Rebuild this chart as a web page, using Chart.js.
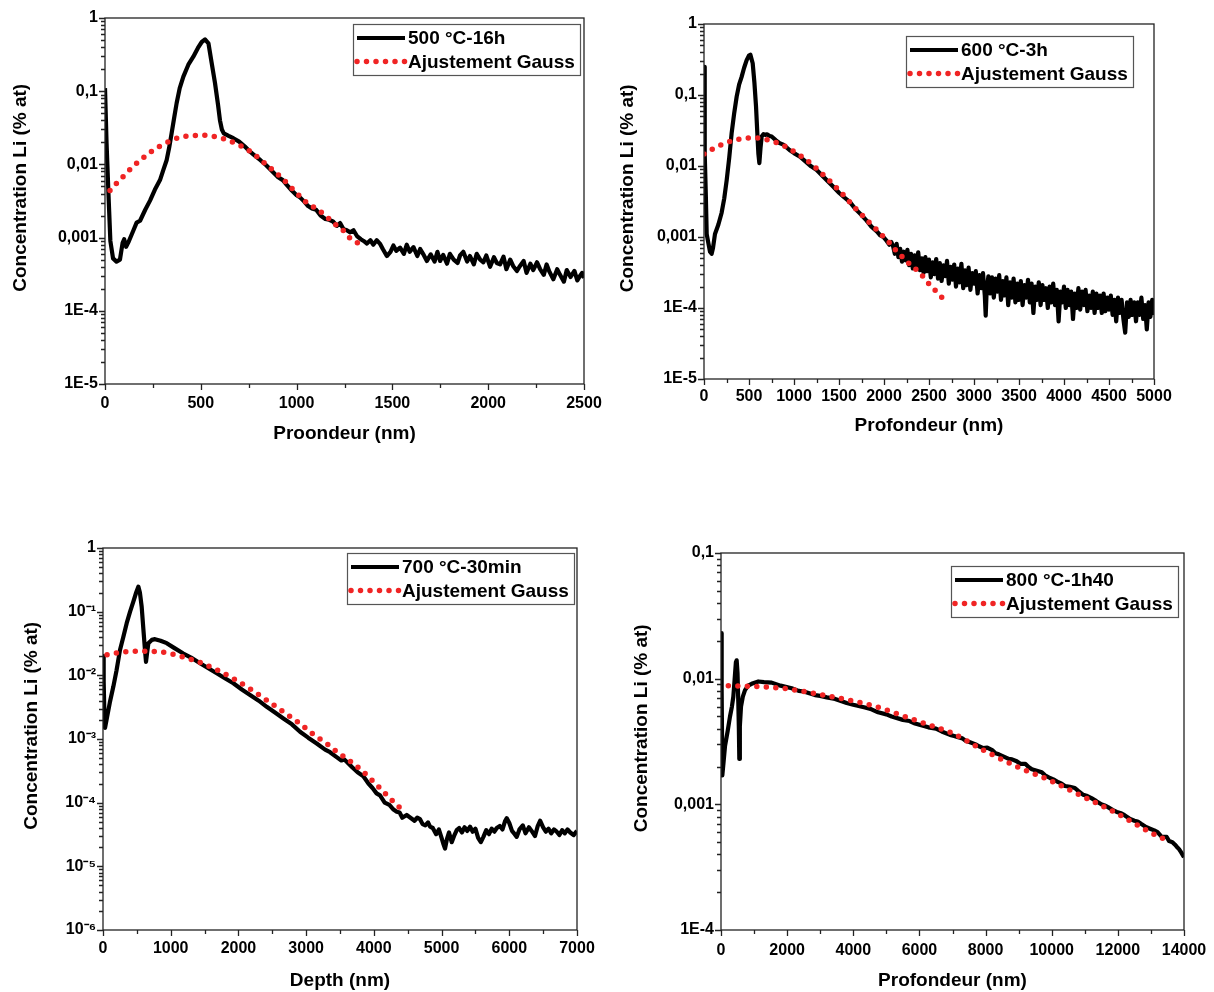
<!DOCTYPE html>
<html>
<head>
<meta charset="utf-8">
<script src="https://cdn.jsdelivr.net/npm/chart.js@4.4.1/dist/chart.umd.min.js"></script>
<style>
  body { margin: 0; background: #fff; }
  canvas { position: absolute; }
</style>
</head>
<body>
<canvas id="c500" width="607" height="460" style="left:0;top:0"></canvas>
<canvas id="c600" width="607" height="460" style="left:607px;top:0"></canvas>
<canvas id="c700" width="607" height="496" style="left:0;top:496px"></canvas>
<canvas id="c800" width="607" height="496" style="left:607px;top:496px"></canvas>
<script>
// ---- data: [depth nm, Li concentration % at] ----
const profile500 = [[0,0.11],[8,0.02],[18,0.004],[28,0.0009],[42,0.00052],[60,0.00047],[78,0.0005],[92,0.00085],[100,0.00095],[110,0.00075],[125,0.0009],[148,0.00125],[165,0.0016],[183,0.0017],[210,0.0024],[235,0.0032],[260,0.0045],[287,0.0061],[305,0.0085],[322,0.0115],[335,0.017],[348,0.027],[362,0.045],[374,0.069],[390,0.11],[409,0.158],[435,0.23],[461,0.296],[485,0.39],[505,0.47],[522,0.51],[540,0.45],[556,0.25],[574,0.13],[590,0.065],[600,0.04],[610,0.03],[620,0.0265],[645,0.0245],[670,0.0228],[700,0.0205],[730,0.0175],[757,0.0149],[785,0.013],[810,0.0115],[840,0.0098],[870,0.0082],[900,0.0068],[928,0.0061],[950,0.0052],[975,0.0044],[1000,0.0038],[1015,0.0036],[1040,0.0031],[1060,0.0027],[1080,0.0025],[1102,0.0024],[1125,0.002],[1150,0.0018],[1170,0.00175],[1190,0.00166],[1210,0.00145],[1227,0.00158],[1245,0.0013],[1260,0.00127],[1280,0.00118],[1297,0.00126],[1315,0.00105],[1335,0.00095],[1350,0.0009],[1367,0.00083],[1385,0.00092],[1400,0.0008],[1418,0.00092],[1436,0.00082],[1450,0.0007],[1471,0.00056],[1490,0.00064],[1505,0.00078],[1520,0.00066],[1540,0.00073],[1560,0.0006],[1575,0.0008],[1590,0.00064],[1610,0.00074],[1630,0.00056],[1645,0.0007],[1660,0.0006],[1680,0.00048],[1700,0.00059],[1720,0.00047],[1735,0.00064],[1749,0.00048],[1765,0.00058],[1785,0.00044],[1800,0.0006],[1820,0.0005],[1840,0.00045],[1853,0.00057],[1870,0.00064],[1890,0.00047],[1905,0.00056],[1925,0.00043],[1940,0.0006],[1958,0.0005],[1975,0.00046],[1990,0.00057],[2010,0.0004],[2030,0.00054],[2045,0.00045],[2062,0.00043],[2080,0.00055],[2095,0.00037],[2115,0.0005],[2130,0.00041],[2150,0.00035],[2166,0.00041],[2185,0.00048],[2200,0.00033],[2220,0.00044],[2235,0.00036],[2255,0.00046],[2271,0.00037],[2290,0.00031],[2305,0.00043],[2320,0.00034],[2340,0.00027],[2360,0.00037],[2375,0.00031],[2395,0.00025],[2410,0.00036],[2430,0.00029],[2450,0.00035],[2465,0.00026],[2479,0.0003],[2490,0.00033],[2500,0.00028]];
const gauss500 = [[26,0.0044],[65,0.0057],[104,0.0072],[145,0.0093],[186,0.0115],[234,0.0145],[282,0.0175],[334,0.0205],[386,0.0232],[445,0.0245],[505,0.025],[560,0.0243],[618,0.0224],[672,0.0198],[725,0.017],[770,0.0143],[818,0.0112],[857,0.0092],[896,0.0075],[931,0.0062],[966,0.005],[1003,0.004],[1039,0.0032],[1080,0.0027],[1122,0.0023],[1170,0.0018],[1218,0.0014],[1244,0.00125],[1270,0.00103],[1310,0.00088],[1340,0.00075]];

const profile600 = [[0,0.25],[5,0.05],[11,0.015],[20,0.004],[30,0.0011],[50,0.0008],[67,0.00062],[85,0.00058],[100,0.0007],[122,0.0011],[160,0.0015],[196,0.0022],[225,0.0035],[252,0.0063],[280,0.013],[307,0.029],[335,0.055],[363,0.095],[390,0.14],[418,0.18],[445,0.24],[474,0.31],[500,0.36],[515,0.37],[541,0.28],[560,0.15],[578,0.069],[595,0.025],[604,0.015],[615,0.011],[628,0.018],[641,0.026],[660,0.028],[678,0.0274],[700,0.028],[730,0.0265],[752,0.026],[800,0.023],[840,0.021],[881,0.02],[950,0.0168],[1000,0.0152],[1067,0.0135],[1130,0.0115],[1190,0.0099],[1252,0.0088],[1310,0.0074],[1370,0.0062],[1437,0.0051],[1500,0.0042],[1560,0.0036],[1622,0.0031],[1680,0.0025],[1740,0.0021],[1807,0.0017],[1860,0.0014],[1920,0.0012],[1960,0.00105],[1993,0.001],[2030,0.00088],[2060,0.00078],[2080,0.00085],[2100,0.00075],[2120,0.00058],[2140,0.0008],[2160,0.00052],[2180,0.00068],[2200,0.00045],[2220,0.00062],[2240,0.00047],[2260,0.00066],[2280,0.0004],[2300,0.00058],[2320,0.00036],[2340,0.00055],[2360,0.00039],[2380,0.00061],[2400,0.00034],[2420,0.0005],[2440,0.00031],[2460,0.00052],[2480,0.00033],[2500,0.00048],[2520,0.00027],[2540,0.00044],[2560,0.0003],[2580,0.00049],[2600,0.00026],[2620,0.00043],[2640,0.00024],[2660,0.0004],[2680,0.00028],[2700,0.00046],[2720,0.00022],[2740,0.00038],[2760,0.00025],[2780,0.00041],[2800,0.0002],[2820,0.00036],[2840,0.00023],[2860,0.00042],[2880,0.00019],[2900,0.00034],[2920,0.00021],[2940,0.00037],[2960,0.00018],[2980,0.00031],[3000,0.00022],[3020,0.00033],[3040,0.00016],[3060,0.00029],[3080,0.00019],[3100,0.00031],[3120,0.00015],[3130,0.000078],[3140,0.00017],[3160,0.00028],[3180,0.00016],[3200,0.00027],[3220,0.00014],[3240,0.00026],[3260,0.00017],[3280,0.00029],[3300,0.00013],[3320,0.00024],[3340,0.00015],[3360,0.00027],[3380,0.00011],[3400,0.00023],[3420,0.00014],[3440,0.00026],[3460,0.00012],[3480,0.00022],[3500,0.00013],[3520,0.00024],[3540,0.00011],[3560,0.00021],[3580,0.00014],[3600,0.00025],[3620,0.00012],[3640,0.00022],[3660,0.000085],[3680,0.0002],[3700,0.00013],[3720,0.00023],[3740,0.00011],[3760,0.00021],[3780,0.00013],[3800,0.00019],[3820,0.0001],[3840,0.0002],[3860,0.00012],[3880,0.00022],[3900,0.00011],[3920,0.00018],[3940,0.000065],[3960,0.00017],[3980,0.00012],[4000,0.0002],[4020,0.0001],[4040,0.00018],[4060,0.00011],[4080,0.00017],[4100,0.00007],[4120,0.00016],[4140,0.0001],[4160,0.00019],[4180,0.000095],[4200,0.00017],[4220,0.00011],[4240,0.00018],[4260,0.00009],[4280,0.00015],[4300,0.0001],[4320,0.00017],[4340,0.000085],[4360,0.00016],[4380,0.0001],[4400,0.00015],[4420,0.000085],[4440,0.00016],[4460,0.00009],[4480,0.00014],[4500,0.000095],[4520,0.00015],[4540,0.00008],[4560,0.00013],[4580,0.000065],[4600,0.00014],[4620,0.000085],[4640,0.00013],[4660,0.00007],[4680,0.000045],[4700,0.00012],[4720,0.000075],[4740,0.00013],[4760,0.00008],[4780,0.00012],[4800,0.000065],[4820,0.00012],[4840,0.00008],[4860,0.00014],[4880,0.00007],[4900,0.00011],[4920,0.00005],[4940,0.00012],[4960,0.000075],[4980,0.00013],[5000,0.00008]];
const gauss600 = [[0,0.0148],[100,0.0175],[204,0.0202],[320,0.0228],[430,0.0243],[548,0.025],[670,0.024],[775,0.022],[881,0.0195],[980,0.0165],[1078,0.0138],[1165,0.0114],[1252,0.0092],[1335,0.0073],[1419,0.0058],[1500,0.0045],[1585,0.0035],[1650,0.0028],[1715,0.0023],[1780,0.0019],[1844,0.00156],[1910,0.0013],[1974,0.00107],[2050,0.00086],[2122,0.00067],[2200,0.00053],[2289,0.00041],[2400,0.00031],[2504,0.000215],[2563,0.00018],[2622,0.00015],[2681,0.000126]];

const profile700 = [[0,0.02],[10,0.008],[20,0.0025],[30,0.0015],[60,0.0022],[100,0.0037],[152,0.0066],[200,0.012],[251,0.025],[300,0.04],[350,0.066],[400,0.1],[448,0.144],[490,0.2],[522,0.247],[545,0.2],[571,0.12],[595,0.055],[620,0.025],[635,0.0163],[650,0.022],[670,0.032],[720,0.036],[768,0.037],[850,0.035],[941,0.032],[1050,0.027],[1186,0.022],[1300,0.019],[1433,0.0155],[1550,0.013],[1679,0.0108],[1800,0.009],[1925,0.0075],[2050,0.006],[2172,0.0049],[2300,0.004],[2418,0.0032],[2540,0.0026],[2664,0.0021],[2790,0.0017],[2910,0.0013],[3030,0.00105],[3156,0.00085],[3280,0.00068],[3353,0.00062],[3450,0.00052],[3520,0.00046],[3560,0.00048],[3599,0.00044],[3680,0.00036],[3760,0.0003],[3845,0.00026],[3920,0.0002],[3980,0.00017],[4040,0.00014],[4091,0.00013],[4160,0.0001],[4230,0.000092],[4290,0.000078],[4338,0.000072],[4380,0.00007],[4420,0.000058],[4485,0.000064],[4540,0.000058],[4600,0.000052],[4640,0.000058],[4682,0.000055],[4720,0.000046],[4760,0.000044],[4800,0.000049],[4830,0.000042],[4870,0.00004],[4920,0.000032],[4960,0.000038],[5000,0.000028],[5030,0.000022],[5051,0.000019],[5080,0.000027],[5110,0.000034],[5150,0.000024],[5190,0.000031],[5224,0.000037],[5260,0.00004],[5300,0.000034],[5340,0.000041],[5380,0.000036],[5421,0.000042],[5460,0.000035],[5500,0.000039],[5540,0.000028],[5580,0.000024],[5618,0.000029],[5660,0.000037],[5700,0.000032],[5740,0.000039],[5780,0.000035],[5815,0.00004],[5860,0.000043],[5900,0.000038],[5940,0.000052],[5963,0.000057],[6000,0.000048],[6040,0.000036],[6080,0.000032],[6110,0.000029],[6150,0.000038],[6200,0.000044],[6240,0.000033],[6290,0.000041],[6330,0.000036],[6380,0.00003],[6420,0.000043],[6455,0.000052],[6500,0.000041],[6540,0.000035],[6580,0.000039],[6620,0.000033],[6660,0.000038],[6701,0.000035],[6740,0.000031],[6780,0.000037],[6820,0.000033],[6860,0.000038],[6900,0.000034],[6950,0.000031],[7000,0.000036]];
const gauss700 = [[60,0.021],[200,0.0225],[483,0.024],[803,0.0236],[1098,0.0206],[1384,0.0166],[1654,0.0126],[1916,0.009],[2196,0.0059],[2442,0.0039],[2679,0.0026],[2900,0.00177],[3107,0.00118],[3328,0.00081],[3452,0.00063],[3600,0.00049],[3821,0.00032],[4043,0.00019],[4264,0.00011],[4412,0.000078]];

const profile800 = [[0,0.023],[20,0.008],[40,0.0017],[80,0.0022],[121,0.0029],[200,0.0038],[272,0.005],[330,0.006],[373,0.0072],[420,0.0105],[450,0.0135],[474,0.014],[500,0.011],[524,0.0064],[540,0.004],[554,0.0023],[570,0.0042],[605,0.006],[660,0.0072],[726,0.0081],[820,0.0088],[927,0.0091],[1129,0.0095],[1300,0.0094],[1532,0.0093],[1800,0.0088],[2137,0.0084],[2350,0.008],[2500,0.0079],[2842,0.0074],[3000,0.0073],[3200,0.0071],[3450,0.0069],[3649,0.0066],[3800,0.0064],[4000,0.0062],[4354,0.0059],[4550,0.0057],[4750,0.0054],[5000,0.0052],[5161,0.005],[5500,0.0047],[5700,0.0046],[5866,0.0044],[6270,0.0041],[6500,0.004],[6673,0.0038],[6925,0.00357],[7050,0.0035],[7200,0.0034],[7300,0.00335],[7400,0.0032],[7550,0.0031],[7700,0.003],[7800,0.0029],[7932,0.0028],[8050,0.00283],[8200,0.0027],[8300,0.00255],[8400,0.0025],[8550,0.0024],[8700,0.0023],[8800,0.00228],[8941,0.0022],[9050,0.0021],[9200,0.0021],[9300,0.00198],[9400,0.0019],[9550,0.00185],[9700,0.0018],[9800,0.0017],[9948,0.00162],[10050,0.00158],[10200,0.0015],[10300,0.00146],[10400,0.0014],[10550,0.00138],[10700,0.00135],[10800,0.00128],[10955,0.00119],[11050,0.00117],[11200,0.00112],[11350,0.00106],[11500,0.001],[11600,0.00098],[11700,0.00095],[11850,0.0009],[11965,0.00087],[12100,0.00085],[12200,0.00082],[12350,0.00077],[12500,0.00074],[12600,0.00073],[12700,0.0007],[12850,0.00066],[12973,0.00064],[13100,0.00062],[13200,0.0006],[13300,0.00056],[13350,0.00055],[13477,0.00055],[13550,0.00051],[13650,0.0005],[13720,0.00048],[13780,0.00046],[13850,0.00044],[13900,0.00042],[13950,0.0004],[14000,0.00038]];
const gauss800 = [[222,0.0088],[827,0.0087],[1835,0.0084],[2742,0.0077],[3700,0.0069],[4587,0.0061],[5463,0.0051],[6270,0.0043],[6975,0.0037],[7932,0.0027],[8941,0.002],[9948,0.00155],[10955,0.00115],[11965,0.00085],[12973,0.0006],[13400,0.00053]];

// ---- axes and labels ----
const seriesNames = ['500 °C-16h', '600 °C-3h', '700 °C-30min', '800 °C-1h40'];
const fitName = 'Ajustement Gauss';
const yTitle = 'Concentration Li (% at)';
const xTitles = ['Proondeur (nm)', 'Profondeur (nm)', 'Depth (nm)', 'Profondeur (nm)'];

const xTicks500 = [0, 500, 1000, 1500, 2000, 2500];
const xTicks600 = [0, 500, 1000, 1500, 2000, 2500, 3000, 3500, 4000, 4500, 5000];
const xTicks700 = [0, 1000, 2000, 3000, 4000, 5000, 6000, 7000];
const xTicks800 = [0, 2000, 4000, 6000, 8000, 10000, 12000, 14000];

const yTicks5 = [1, 0.1, 0.01, 0.001, 1e-4, 1e-5];
const yLabels5 = ['1', '0,1', '0,01', '0,001', '1E-4', '1E-5'];
const yTicks700 = [1, 0.1, 0.01, 0.001, 1e-4, 1e-5, 1e-6];
const yLabels700 = ['1', '10⁻¹', '10⁻²', '10⁻³', '10⁻⁴', '10⁻⁵', '10⁻⁶'];
const yTicks800 = [0.1, 0.01, 0.001, 1e-4];
const yLabels800 = ['0,1', '0,01', '0,001', '1E-4'];

const FONT = '"Liberation Sans", Arial, sans-serif';

// frame round the plot with outward major/minor ticks
const frameTicks = {
  id: 'frameTicks',
  afterDraw(chart, args, opts) {
    const { ctx, chartArea: a, scales: { x, y } } = chart;
    ctx.save();
    ctx.strokeStyle = '#222';
    ctx.lineWidth = 1.3;
    ctx.strokeRect(a.left, a.top, a.right - a.left, a.bottom - a.top);
    ctx.beginPath();
    for (let v = x.min; v <= x.max + 1e-6; v += opts.xMinor) {
      const px = Math.round(x.getPixelForValue(v)) + 0.5;
      const major = Math.abs(v / opts.xMajor - Math.round(v / opts.xMajor)) < 1e-6;
      ctx.moveTo(px, a.bottom);
      ctx.lineTo(px, a.bottom + (major ? 6 : 4));
    }
    const e0 = Math.round(Math.log10(y.min)), e1 = Math.round(Math.log10(y.max));
    for (let e = e0; e <= e1; e++) {
      for (let k = 1; k <= 9; k++) {
        const v = k * Math.pow(10, e);
        if (v > y.max * 1.0001) break;
        const py = Math.round(y.getPixelForValue(v)) + 0.5;
        ctx.moveTo(a.left, py);
        ctx.lineTo(a.left - (k === 1 ? 6 : 4), py);
      }
    }
    ctx.stroke();
    ctx.restore();
  }
};

// boxed legend in the top right corner of the plot
const boxLegend = {
  id: 'boxLegend',
  afterDraw(chart, args, opts) {
    const { ctx, chartArea: a } = chart;
    const sets = chart.data.datasets;
    ctx.save();
    ctx.font = `bold ${opts.size}px ${FONT}`;
    const sample = 48;
    const tw = Math.max(...sets.map(d => ctx.measureText(d.label).width));
    const w = Math.round(4 + sample + 3 + tw + 5);
    const h = Math.round(opts.rowH * 2 + 4);
    const left = Math.round(a.right - opts.dx - w);
    const top = Math.round(a.top + opts.dy);
    ctx.fillStyle = '#fff';
    ctx.fillRect(left, top, w, h);
    ctx.strokeStyle = '#555';
    ctx.lineWidth = 1.2;
    ctx.strokeRect(left + 0.5, top + 0.5, w, h);
    sets.forEach((ds, i) => {
      const cy = top + 14 + i * opts.rowH;
      ctx.beginPath();
      ctx.strokeStyle = ds.borderColor;
      ctx.lineWidth = ds.borderWidth;
      ctx.lineCap = ds.borderCapStyle || 'butt';
      ctx.setLineDash(ds.borderDash || []);
      ctx.moveTo(left + 4, cy);
      ctx.lineTo(left + 4 + sample, cy);
      ctx.stroke();
      ctx.setLineDash([]);
      ctx.fillStyle = '#000';
      ctx.textBaseline = 'middle';
      ctx.textAlign = 'left';
      ctx.fillText(ds.label, left + 7 + sample, cy + 1);
    });
    ctx.restore();
  }
};

function toPoints(pairs) {
  return pairs.map(p => ({ x: p[0], y: p[1] }));
}

function makeChart(id, o) {
  const ctx = document.getElementById(id).getContext('2d');
  return new Chart(ctx, {
    type: 'line',
    data: {
      datasets: [{
        label: o.name,
        data: toPoints(o.profile),
        borderColor: '#000',
        borderWidth: 4.2,
        borderJoinStyle: 'round',
        pointRadius: 0,
        order: 1
      }, {
        label: fitName,
        data: toPoints(o.gauss),
        borderColor: '#f02424',
        borderWidth: 5.5,
        borderDash: [0, 9.5],
        borderCapStyle: 'round',
        cubicInterpolationMode: 'monotone',
        pointRadius: 0,
        order: 0
      }]
    },
    options: {
      responsive: false,
      animation: false,
      layout: { padding: o.pad },
      plugins: {
        legend: { display: false },
        tooltip: { enabled: false },
        frameTicks: { xMajor: o.xTicks[1], xMinor: o.xTicks[1] / 2 },
        boxLegend: { size: 19, rowH: 23.5, dx: o.legDx, dy: o.legDy }
      },
      scales: {
        x: {
          type: 'linear',
          min: o.xTicks[0],
          max: o.xTicks[o.xTicks.length - 1],
          grid: { display: false, drawTicks: false },
          border: { display: false },
          afterBuildTicks: s => { s.ticks = o.xTicks.map(v => ({ value: v })); },
          afterFit: s => { s.height = o.xH; s.paddingLeft = 0; s.paddingRight = 0; },
          ticks: {
            autoSkip: false, maxRotation: 0, padding: o.xTickPad, color: '#000',
            font: { family: FONT, size: 16, weight: 'bold' },
            callback: v => String(v)
          },
          title: {
            display: true, text: o.xTitle, color: '#000',
            font: { family: FONT, size: 19, weight: 'bold' },
            padding: { top: 0, bottom: o.xTitlePad }
          }
        },
        y: {
          type: 'logarithmic',
          min: o.yTicks[o.yTicks.length - 1],
          max: o.yTicks[0],
          grid: { display: false, drawTicks: false },
          border: { display: false },
          afterBuildTicks: s => { s.ticks = o.yTicks.map(v => ({ value: v, major: true })); },
          afterFit: s => { s.width = o.yW; s.paddingTop = 0; s.paddingBottom = 0; },
          ticks: {
            autoSkip: false, padding: 7, color: '#000',
            font: { family: FONT, size: 16, weight: 'bold' },
            callback: v => o.yLabels[o.yTicks.indexOf(v)]
          },
          title: {
            display: true, text: '     ' + yTitle, color: '#000',
            font: { family: FONT, size: 19, weight: 'bold' },
            padding: { top: o.yTitlePad, bottom: 0 }
          }
        }
      }
    },
    plugins: [frameTicks, boxLegend]
  });
}

makeChart('c500', {
  name: seriesNames[0], profile: profile500, gauss: gauss500,
  xTicks: xTicks500, yTicks: yTicks5, yLabels: yLabels5, xTitle: xTitles[0],
  pad: { left: 0, top: 18, right: 23, bottom: 0 }, yW: 105, xH: 76,
  xTickPad: 10, xTitlePad: 15, yTitlePad: 9, legDx: 4, legDy: 6
});
makeChart('c600', {
  name: seriesNames[1], profile: profile600, gauss: gauss600,
  xTicks: xTicks600, yTicks: yTicks5, yLabels: yLabels5, xTitle: xTitles[1],
  pad: { left: 0, top: 24, right: 60, bottom: 0 }, yW: 97, xH: 81,
  xTickPad: 8, xTitlePad: 23, yTitlePad: 9, legDx: 21, legDy: 12
});
makeChart('c700', {
  name: seriesNames[2], profile: profile700, gauss: gauss700,
  xTicks: xTicks700, yTicks: yTicks700, yLabels: yLabels700, xTitle: xTitles[2],
  pad: { left: 0, top: 52, right: 30, bottom: 0 }, yW: 103, xH: 62,
  xTickPad: 9, xTitlePad: 0, yTitlePad: 20, legDx: 3, legDy: 5
});
makeChart('c800', {
  name: seriesNames[3], profile: profile800, gauss: gauss800,
  xTicks: xTicks800, yTicks: yTicks800, yLabels: yLabels800, xTitle: xTitles[3],
  pad: { left: 0, top: 57, right: 30, bottom: 0 }, yW: 114, xH: 62,
  xTickPad: 11, xTitlePad: 0, yTitlePad: 23, legDx: 6, legDy: 13
});
</script>
</body>
</html>
